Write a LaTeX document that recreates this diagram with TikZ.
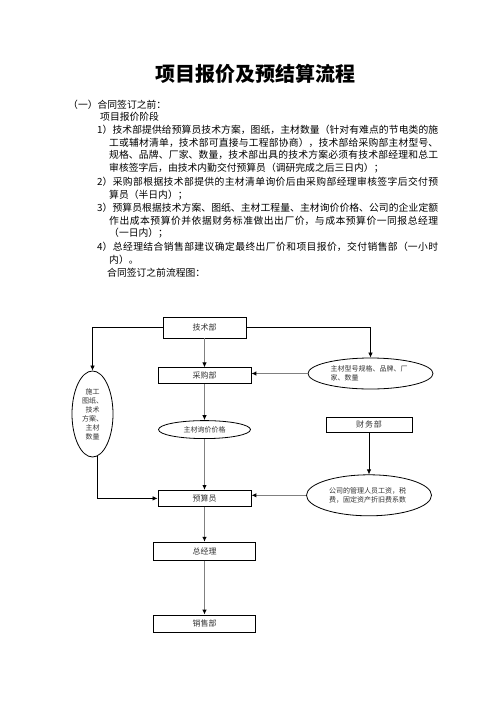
\documentclass[tikz,border=0pt]{standalone}
\usepackage{fontspec}
\setmainfont{Noto Sans CJK SC}
\usetikzlibrary{shapes.geometric,arrows.meta,positioning}
\XeTeXlinebreaklocale "zh"
\XeTeXlinebreakskip = 0pt plus 1pt minus 0.2pt

\begin{document}
\begin{tikzpicture}[
    x=1pt, y=-1pt,
    para/.style={anchor=base west, inner sep=0pt, text width=341pt, align=justify, font=\fontsize{9.8}{12.5}\selectfont},
    line/.style={anchor=base west, inner sep=0pt, font=\fontsize{9.8}{12.5}\selectfont},
    box/.style={rectangle, draw, line width=0.8pt, inner sep=0pt, text=black!80, font=\fontsize{8}{10}\selectfont},
    ell/.style={ellipse, draw, line width=0.8pt, inner sep=0pt, text=black!80, font=\fontsize{7}{9}\selectfont},
    thinarrow/.style={draw, line width=0.7pt, -{Latex[length=5pt, width=4.5pt]}},
    greyarrow/.style={draw=black!50, line width=1.5pt, -{Latex[length=5pt, width=4.5pt, color=black]}}
]
\path[use as bounding box, fill=white] (0,0) rectangle (496,702);

% Title and text
\node[font=\fontsize{20}{24}\selectfont\bfseries] (title) at (255,73.5) {项目报价及预结算流程};
\node[line] (before) at (68,108.7) {（一）合同签订之前：};
\node[line] (stage) at (100,120.7) {项目报价阶段};
\node[para] (item1) at (97,133.7) {\hangindent=12pt\hangafter=1
  1）技术部提供给预算员技术方案，图纸，主材数量（针对有难点的节电类的施\linebreak
  工或辅材清单，技术部可直接与工程部协商），技术部给采购部主材型号、\linebreak
  规格、品牌、厂家、数量，技术部出具的技术方案必须有技术部经理和总工\linebreak
  审核签字后，由技术内勤交付预算员（调研完成之后三日内）；\par};
\node[para] (item2) at (97,185.7) {\hangindent=12pt\hangafter=1
  2）采购部根据技术部提供的主材清单询价后由采购部经理审核签字后交付预\linebreak
  算员（半日内）；\par};
\node[para] (item3) at (97,211.7) {\hangindent=12pt\hangafter=1
  3）预算员根据技术方案、图纸、主材工程量、主材询价价格、公司的企业定额\linebreak
  作出成本预算价并依据财务标准做出出厂价，与成本预算价一同报总经理\linebreak
  （一日内）；\par};
\node[para] (item4) at (97,250.7) {\hangindent=12pt\hangafter=1
  4）总经理结合销售部建议确定最终出厂价和项目报价，交付销售部（一小时\linebreak
  内）。\par};
\node[line] (flow) at (107,276.7) {合同签订之前流程图：};

% Middle column
\node[box, minimum width=83pt, minimum height=21pt] (jishu) at (204.5,327.5) {技术部};
\node[box, minimum width=93pt, minimum height=16pt, below=29pt of jishu] (caigou) {采购部};
\node[ell, minimum width=92pt, minimum height=18pt, below=36pt of caigou] (xunjia) {主材询价价格};
\node[box, minimum width=93pt, minimum height=16pt, below=51pt of xunjia] (yusuan) {预算员};
\node[box, minimum width=102pt, minimum height=18pt, below=35pt of yusuan] (zjl) {总经理};
\node[box, minimum width=102pt, minimum height=17pt, below=54pt of zjl] (xiaoshou) {销售部};

% Side nodes
\node[ell, minimum width=41pt, minimum height=86pt, align=center] (shigong) at (92.5,414) {施工\\图纸、\\技术\\方案、\\主材\\数量};
\node[ell, minimum width=125pt, minimum height=31pt, text width=80pt, align=left] (guige) at (370.5,373.5) {主材型号规格、品牌、厂\\家、数量};
\node[box, minimum width=86pt, minimum height=15pt] (caiwu) at (369,424.5) {财\hspace{0.8pt}务\hspace{0.8pt}部};
\node[ell, minimum width=125pt, minimum height=41pt, text width=80pt, align=left, below=42pt of caiwu] (guanli) {公司的管理人员工资，税\\费，固定资产折旧费系数};

% Arrows
\draw[thinarrow] (jishu.west) -| (shigong.north);
\draw[thinarrow] (jishu.east) -| (guige.north);
\draw[greyarrow] (jishu) -- (caigou);
\draw[greyarrow, line width=1.2pt] (guige.west) -- (guige.west -| caigou.east);
\draw[greyarrow] (caigou) -- (xunjia);
\draw[greyarrow] (xunjia) -- (yusuan);
\draw[thinarrow] (shigong.-83) |- (yusuan.west);
\draw[thinarrow] (caiwu) -- (guanli);
\draw[greyarrow, line width=1.2pt] (guanli.west) -- (guanli.west -| yusuan.east);
\draw[greyarrow] (yusuan) -- (zjl);
\draw[greyarrow] (zjl) -- (xiaoshou);

\end{tikzpicture}
\end{document}
